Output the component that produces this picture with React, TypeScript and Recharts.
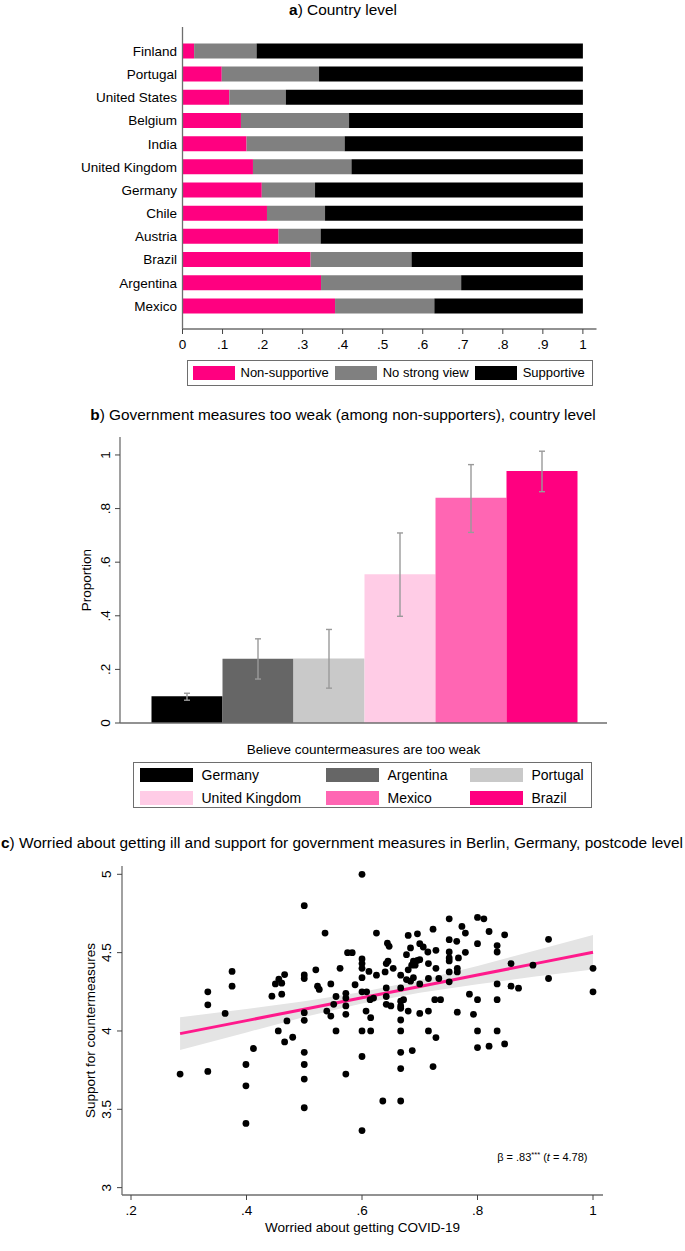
import React from 'react';
import {
  BarChart,
  Bar,
  XAxis,
  YAxis,
  ComposedChart,
  Area,
  Line,
  Scatter,
  ErrorBar,
} from 'recharts';

const FONT = '"Liberation Sans", Arial, Helvetica, sans-serif';
const FRAME = '#6e6e6e';
const TICKC = '#444';

/* ---------------- Panel a: country level shares ---------------- */
const countries = [
  'Finland', 'Portugal', 'United States', 'Belgium', 'India', 'United Kingdom',
  'Germany', 'Chile', 'Austria', 'Brazil', 'Argentina', 'Mexico',
];
const nonSupportive = [0.029, 0.098, 0.117, 0.146, 0.160, 0.176, 0.198, 0.211, 0.240, 0.320, 0.346, 0.381];
const noStrongView = [0.156, 0.243, 0.141, 0.270, 0.245, 0.246, 0.133, 0.145, 0.105, 0.252, 0.350, 0.248];
const supportive = [0.815, 0.659, 0.742, 0.584, 0.595, 0.578, 0.669, 0.644, 0.655, 0.428, 0.304, 0.371];
const shareTicks = [0, 0.1, 0.2, 0.3, 0.4, 0.5, 0.6, 0.7, 0.8, 0.9, 1];
const stackSeries = [
  { key: 'non', name: 'Non-supportive', color: '#ff0080' },
  { key: 'none', name: 'No strong view', color: '#808080' },
  { key: 'sup', name: 'Supportive', color: '#000000' },
];
const shareRows = countries.map((c, i) => ({
  country: c,
  non: nonSupportive[i],
  none: noStrongView[i],
  sup: supportive[i],
}));

/* ---------------- Panel b: measures too weak ---------------- */
const weakCategory = 'Believe countermeasures are too weak';
const weakCountries = ['Germany', 'Argentina', 'Portugal', 'United Kingdom', 'Mexico', 'Brazil'];
const weakShare = [0.100, 0.240, 0.241, 0.555, 0.840, 0.940];
const weakLow = [0.085, 0.164, 0.130, 0.398, 0.711, 0.863];
const weakHigh = [0.111, 0.314, 0.349, 0.709, 0.964, 1.014];
const weakColors = ['#000000', '#666666', '#c9c9c9', '#ffcce6', '#ff66b3', '#ff0080'];
const proportionTicks = [0, 0.2, 0.4, 0.6, 0.8, 1];
const weakRow: Record<string, any> = { cat: weakCategory };
weakCountries.forEach((c, i) => {
  weakRow[c] = weakShare[i];
  weakRow[c + '_err'] = [weakShare[i] - weakLow[i], weakHigh[i] - weakShare[i]];
});
const weakRows = [weakRow];

/* ---------------- Panel c: Berlin postcodes ---------------- */
const worried = [
  0.500, 0.536, 0.575, 0.583, 0.375, 0.375, 0.333, 0.333, 0.363, 0.444,
  0.450, 0.456, 0.461, 0.466, 0.461, 0.500, 0.500, 0.500, 0.500, 0.470,
  0.455, 0.520, 0.523, 0.526, 0.546, 0.562, 0.555, 0.551, 0.539, 0.546,
  0.572, 0.572, 0.572, 0.572, 0.588, 0.555,
  0.600, 0.625, 0.680, 0.696, 0.723, 0.751, 0.773, 0.779, 0.800, 0.811,
  0.820, 0.847, 0.923, 0.800, 0.834, 0.834, 0.751, 0.764, 0.644, 0.647,
  0.684, 0.700, 0.706, 0.714, 0.728, 0.677, 0.751, 0.751, 0.751, 0.779,
  0.767, 0.600, 0.600, 0.600, 0.645, 0.642, 0.654, 0.689, 0.696, 0.700,
  0.686, 0.692, 0.715, 0.728, 0.765, 0.765, 0.751, 0.858, 0.896, 1.000,
  0.612, 0.625, 0.640, 0.600, 0.667, 0.680, 0.677, 0.684, 0.689, 0.715,
  0.733, 0.700, 0.751, 0.834, 0.858, 0.871, 0.923, 1.000, 0.600, 0.608,
  0.642, 0.667, 0.642, 0.614, 0.620, 0.642, 0.650, 0.667, 0.672, 0.667,
  0.667, 0.680, 0.700, 0.715, 0.726, 0.736, 0.786, 0.800, 0.834, 0.765,
  0.793, 0.667, 0.607, 0.615, 0.600, 0.615, 0.667, 0.715, 0.800, 0.834,
  0.728, 0.800, 0.820, 0.847, 0.600, 0.667, 0.687, 0.667, 0.723, 0.636,
  0.667, 0.600,
  0.285, 0.333, 0.412, 0.399, 0.399, 0.399, 0.466, 0.480, 0.500, 0.500,
  0.500, 0.500, 0.572,
];
const support = [
  4.800, 4.625, 4.500, 4.500, 4.380, 4.286, 4.250, 4.167, 4.112, 4.222,
  4.300, 4.330, 4.305, 4.360, 4.235, 4.358, 4.335, 4.117, 4.068, 4.064,
  4.000, 4.390, 4.286, 4.265, 4.300, 4.400, 4.220, 4.170, 4.127, 4.095,
  4.240, 4.210, 4.160, 4.106, 4.295, 4.000,
  5.000, 4.625, 4.610, 4.620, 4.650, 4.716, 4.667, 4.625, 4.725, 4.716,
  4.635, 4.614, 4.585, 4.557, 4.545, 4.504, 4.583, 4.572, 4.560, 4.540,
  4.530, 4.557, 4.536, 4.504, 4.515, 4.487, 4.504, 4.466, 4.447, 4.502,
  4.466, 4.460, 4.430, 4.400, 4.445, 4.430, 4.400, 4.445, 4.450, 4.455,
  4.420, 4.420, 4.430, 4.400, 4.400, 4.377, 4.377, 4.430, 4.420, 4.400,
  4.380, 4.356, 4.377, 4.340, 4.356, 4.390, 4.328, 4.318, 4.340, 4.335,
  4.335, 4.300, 4.314, 4.300, 4.286, 4.273, 4.335, 4.250, 4.250, 4.250,
  4.275, 4.275, 4.220, 4.200, 4.210, 4.170, 4.160, 4.190, 4.200, 4.160,
  4.145, 4.127, 4.112, 4.127, 4.200, 4.200, 4.235, 4.200, 4.200, 4.120,
  4.106, 4.070, 4.127, 4.085, 4.000, 4.000, 4.000, 4.000, 4.000, 4.000,
  3.958, 3.894, 3.903, 3.917, 3.837, 3.864, 3.875, 3.760, 3.773, 3.553,
  3.553, 3.364,
  3.725, 3.742, 3.888, 3.786, 3.650, 3.410, 3.930, 3.960, 3.864, 3.786,
  3.693, 3.510, 3.725,
];
const fitX = [0.285, 0.4, 0.5, 0.6, 0.7, 0.8, 0.9, 1.0];
const fitY = [3.983, 4.066, 4.139, 4.212, 4.284, 4.357, 4.430, 4.503];
const ciLow = [3.878, 3.991, 4.089, 4.175, 4.244, 4.299, 4.347, 4.393];
const ciHigh = [4.088, 4.141, 4.189, 4.249, 4.324, 4.415, 4.513, 4.613];
const worriedTicks = [0.2, 0.4, 0.6, 0.8, 1];
const supportTicks = [3, 3.5, 4, 4.5, 5];

const scatterRows = worried.map((x, i) => ({ x, y: support[i] }));
const fitRows = fitX.map((x, i) => ({ x, fit: fitY[i], band: [ciLow[i], ciHigh[i]] }));

const stataNum = (v: number) => String(v).replace(/^0\./, '.');

const RotTick = (props: any) => {
  const { x, y, payload } = props;
  return (
    <text
      x={x}
      y={y}
      transform={`rotate(-90 ${x} ${y})`}
      textAnchor="middle"
      fontSize={13.5}
      fill="#000"
      fontFamily={FONT}
    >
      {stataNum(payload.value)}
    </text>
  );
};

const Dot = (p: any) => <circle cx={p.cx} cy={p.cy} r={3.4} fill="#000" />;

export default function App() {
  return (
    <div
      style={{
        position: 'absolute',
        left: 0,
        top: 0,
        width: 685,
        height: 1251,
        background: '#fff',
        fontFamily: FONT,
        color: '#000',
        overflow: 'hidden',
      }}
    >
      {/* Panel a */}
      <div style={{ position: 'absolute', left: 0, top: 0 }}>
        <BarChart
          width={685}
          height={360}
          data={shareRows}
          layout="vertical"
          margin={{ top: 27, right: 88.5, bottom: 6, left: 32.5 }}
          barSize={15}
        >
          <XAxis
            type="number"
            domain={[0, 1.034]}
            ticks={shareTicks}
            allowDataOverflow
            tickFormatter={stataNum}
            tick={{ fontSize: 13.5, fill: '#000' }}
            tickSize={5}
            tickMargin={5}
            height={25}
            interval={0}
            axisLine={{ stroke: FRAME, strokeWidth: 1.3 }}
            tickLine={{ stroke: TICKC }}
          />
          <XAxis xAxisId="top" orientation="top" type="number" domain={[0, 1]} tick={false} tickLine={false} height={0} axisLine={{ stroke: FRAME, strokeWidth: 1.3 }} />
          <YAxis
            type="category"
            dataKey="country"
            width={150}
            padding={{ top: 12.4, bottom: 11.4 }}
            tickLine={false}
            tickSize={0}
            tickMargin={5.5}
            interval={0}
            tick={{ fontSize: 13.5, fill: '#000' }}
            axisLine={{ stroke: FRAME, strokeWidth: 1.3 }}
          />
          <YAxis yAxisId="right" orientation="right" type="category" dataKey="country" width={0} tick={false} tickLine={false} axisLine={{ stroke: FRAME, strokeWidth: 1.3 }} />
          {stackSeries.map((s) => (
            <Bar key={s.key} dataKey={s.key} name={s.name} stackId="a" fill={s.color} isAnimationActive={false} />
          ))}
        </BarChart>
      </div>

      {/* Legend a */}
      <div
        style={{
          position: 'absolute',
          left: 187,
          top: 360,
          width: 406,
          height: 26,
          boxSizing: 'border-box',
          border: `1.3px solid ${FRAME}`,
          display: 'flex',
          alignItems: 'center',
          paddingLeft: 4.5,
          fontSize: 13,
          lineHeight: '14px',
          whiteSpace: 'nowrap',
        }}
      >
        {stackSeries.map((s) => (
          <div key={s.key} style={{ display: 'flex', alignItems: 'center', marginRight: 6 }}>
            <span style={{ display: 'inline-block', width: 42.5, height: 14, background: s.color, marginRight: 5.5 }} />
            <span>{s.name}</span>
          </div>
        ))}
      </div>

      {/* Panel b */}
      <div style={{ position: 'absolute', left: 0, top: 430 }}>
        <BarChart
          width={685}
          height={340}
          data={weakRows}
          margin={{ top: 7, right: 78, bottom: 7, left: 80 }}
          barCategoryGap={31.5}
          barGap={0}
        >
          <XAxis
            dataKey="cat"
            tickLine={false}
            tickSize={0}
            tickMargin={21}
            height={40}
            interval={0}
            tick={{ fontSize: 13.5, fill: '#000' }}
            axisLine={{ stroke: FRAME, strokeWidth: 1.3 }}
          />
          <XAxis xAxisId="top" orientation="top" dataKey="cat" tick={false} tickLine={false} height={0} axisLine={{ stroke: FRAME, strokeWidth: 1.3 }} />
          <YAxis
            type="number"
            domain={[0, 1.067]}
            allowDataOverflow
            ticks={proportionTicks}
            interval={0}
            width={40}
            tickSize={5}
            tickMargin={5}
            tick={<RotTick />}
            tickLine={{ stroke: TICKC }}
            axisLine={{ stroke: FRAME, strokeWidth: 1.3 }}
          />
          <YAxis yAxisId="right" orientation="right" type="number" domain={[0, 1.067]} width={0} tick={false} tickLine={false} axisLine={{ stroke: FRAME, strokeWidth: 1.3 }} />
          {weakCountries.map((c, i) => (
            <Bar key={c} dataKey={c} name={c} fill={weakColors[i]} isAnimationActive={false}>
              <ErrorBar dataKey={c + '_err'} width={3} stroke="#9a9a9a" strokeWidth={1.4} direction="y" />
            </Bar>
          ))}
        </BarChart>
      </div>

      {/* Legend b */}
      <div
        style={{
          position: 'absolute',
          left: 133,
          top: 762,
          width: 459,
          height: 46,
          boxSizing: 'border-box',
          border: `1.3px solid ${FRAME}`,
          padding: '5px 0 0 5.5px',
          display: 'grid',
          gridTemplateColumns: '186px 144px 1fr',
          rowGap: 6,
          fontSize: 14,
          lineHeight: '14px',
          whiteSpace: 'nowrap',
        }}
      >
        {weakCountries.map((c, i) => (
          <div key={c} style={{ display: 'flex', alignItems: 'center', height: 14 }}>
            <span style={{ display: 'inline-block', width: 53, height: 14, background: weakColors[i], marginRight: 9 }} />
            <span>{c}</span>
          </div>
        ))}
      </div>

      {/* Panel c */}
      <div style={{ position: 'absolute', left: 0, top: 850 }}>
        <ComposedChart
          width={685}
          height={401}
          data={fitRows}
          margin={{ top: 16, right: 82, bottom: 26, left: 82 }}
        >
          <XAxis
            type="number"
            dataKey="x"
            domain={[0.1844, 1.0173]}
            allowDataOverflow
            ticks={worriedTicks}
            interval={0}
            tickFormatter={stataNum}
            tick={{ fontSize: 13.5, fill: '#000' }}
            tickSize={5}
            tickMargin={5}
            height={30}
            tickLine={{ stroke: TICKC }}
            axisLine={{ stroke: FRAME, strokeWidth: 1.3 }}
          />
          <XAxis xAxisId="top" orientation="top" type="number" domain={[0, 1]} tick={false} tickLine={false} height={0} axisLine={{ stroke: FRAME, strokeWidth: 1.3 }} />
          <YAxis
            type="number"
            dataKey="y"
            domain={[2.953, 5.053]}
            allowDataOverflow
            ticks={supportTicks}
            interval={0}
            width={40}
            tickSize={5}
            tickMargin={6}
            tick={<RotTick />}
            tickLine={{ stroke: TICKC }}
            axisLine={{ stroke: FRAME, strokeWidth: 1.3 }}
          />
          <YAxis yAxisId="right" orientation="right" type="number" domain={[0, 1]} width={0} tick={false} tickLine={false} axisLine={{ stroke: FRAME, strokeWidth: 1.3 }} />
          <Area dataKey="band" type="linear" stroke="none" fill="#e4e4e4" fillOpacity={1} isAnimationActive={false} />
          <Line dataKey="fit" type="linear" stroke="#ff1a8c" strokeWidth={3} dot={false} activeDot={false} isAnimationActive={false} />
          <Scatter data={scatterRows} dataKey="y" shape={Dot} isAnimationActive={false} />
        </ComposedChart>
      </div>

      {/* Titles and axis titles */}
      <svg
        width={685}
        height={1251}
        style={{ position: 'absolute', left: 0, top: 0, pointerEvents: 'none' }}
        fontFamily={FONT}
      >
        <text x={343} y={15} textAnchor="middle" fontSize={15.4} fill="#000">
          <tspan fontWeight="bold">a</tspan>) Country level
        </text>
        <text x={343} y={420} textAnchor="middle" fontSize={15.4} fill="#000">
          <tspan fontWeight="bold">b</tspan>) Government measures too weak (among non-supporters), country level
        </text>
        <text x={342} y={847.5} textAnchor="middle" fontSize={15.4} fill="#000">
          <tspan fontWeight="bold">c</tspan>) Worried about getting ill and support for government measures in Berlin, Germany, postcode level
        </text>
        <text x={90.7} y={580} transform="rotate(-90 90.7 580)" textAnchor="middle" fontSize={13.5} fill="#000">
          Proportion
        </text>
        <text x={94.5} y={1030.5} transform="rotate(-90 94.5 1030.5)" textAnchor="middle" fontSize={13.5} fill="#000">
          Support for countermeasures
        </text>
        <text x={362.5} y={1231.5} textAnchor="middle" fontSize={13.5} fill="#000">
          Worried about getting COVID-19
        </text>
        <text x={587.5} y={1161} textAnchor="end" fontSize={11} fill="#000">
          β = .83<tspan dy={-4} fontSize={7.5}>***</tspan>
          <tspan dy={4}> (</tspan>
          <tspan fontStyle="italic">t</tspan> = 4.78)
        </text>
      </svg>
    </div>
  );
}
